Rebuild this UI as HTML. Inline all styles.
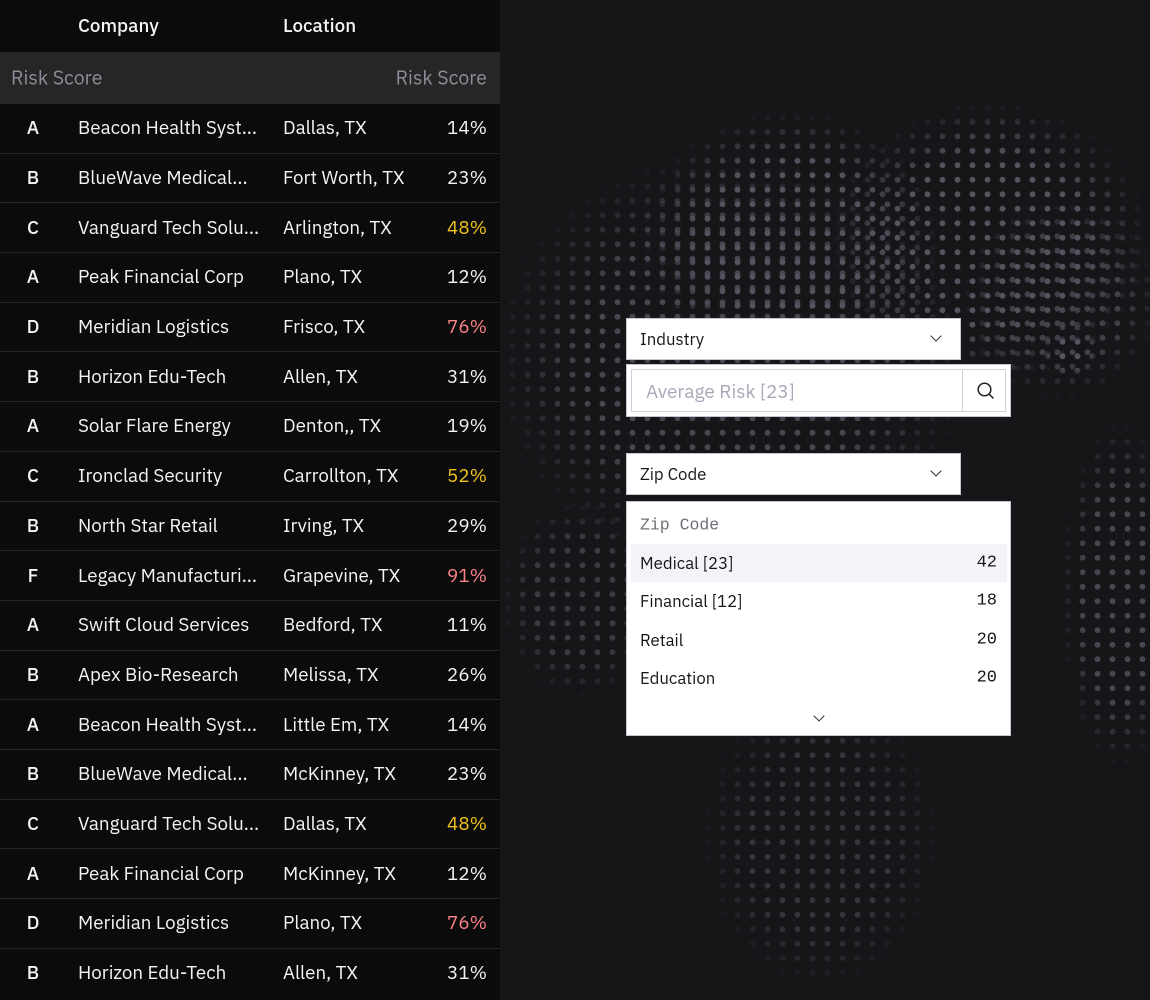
<!DOCTYPE html>
<html><head><meta charset="utf-8"><style>
*{margin:0;padding:0;box-sizing:border-box}
body{width:1150px;height:1000px;overflow:hidden;background:#161619;font-family:"IBM Plex Sans","Liberation Sans",sans-serif;position:relative}
.dots{position:absolute;background-image:radial-gradient(circle,#56535f 2.6px,transparent 3.2px);background-size:15px 14.5px;-webkit-mask-image:radial-gradient(ellipse closest-side,#000 60%,transparent 100%);mask-image:radial-gradient(ellipse closest-side,#000 60%,transparent 100%)}
.tbl{position:absolute;left:0;top:0;width:500px;height:1000px;background:#0b0b0b;color:#f4f4f4;font-size:18.8px}
.hd{height:52px;position:relative;font-weight:500}
.sub{height:51px;background:#262626;position:relative;color:#8d8d99;font-size:19.5px}
.row{height:49.7px;border-top:1px solid #262626;position:relative}
.c{position:absolute;top:50%;transform:translateY(-50%);white-space:nowrap}
.g{left:0;width:66px;text-align:center;font-weight:500}
.n{left:78px}.l{left:283px}.p{right:13px}
.y{color:#f1c21b}.r{color:#ff8389}
.box{position:absolute;background:#fff;border:1px solid #c6c6d0}
.t{position:absolute;font-size:16.8px;color:#161616;transform:translateY(-50%);white-space:nowrap}
.chev{position:absolute;width:8px;height:8px;border-right:1.3px solid #333;border-bottom:1.3px solid #333;transform:rotate(45deg)}
.mono{font-family:"Liberation Mono",monospace}
</style></head><body>
<div class="dots" style="left:490px;top:150px;width:480px;height:420px;opacity:.8"></div>
<div class="dots" style="left:640px;top:110px;width:300px;height:260px"></div>
<div class="dots" style="left:830px;top:100px;width:320px;height:280px"></div>
<div class="dots" style="left:960px;top:200px;width:200px;height:200px;opacity:.7"></div>
<div class="dots" style="left:1040px;top:320px;width:60px;height:60px"></div>
<div class="dots" style="left:1060px;top:420px;width:120px;height:350px;opacity:.8"></div>
<div class="dots" style="left:500px;top:500px;width:160px;height:200px;opacity:.6"></div>
<div class="dots" style="left:700px;top:690px;width:240px;height:300px;opacity:.5"></div>
<div class="tbl">
<div class="hd"><span class="c n">Company</span><span class="c l">Location</span></div>
<div class="sub"><span class="c" style="left:11px">Risk Score</span><span class="c p">Risk Score</span></div>
<div class="row"><span class="c g">A</span><span class="c n">Beacon Health Syst...</span><span class="c l">Dallas, TX</span><span class="c p">14%</span></div>
<div class="row"><span class="c g">B</span><span class="c n">BlueWave Medical...</span><span class="c l">Fort Worth, TX</span><span class="c p">23%</span></div>
<div class="row"><span class="c g">C</span><span class="c n">Vanguard Tech Solu...</span><span class="c l">Arlington, TX</span><span class="c p y">48%</span></div>
<div class="row"><span class="c g">A</span><span class="c n">Peak Financial Corp</span><span class="c l">Plano, TX</span><span class="c p">12%</span></div>
<div class="row"><span class="c g">D</span><span class="c n">Meridian Logistics</span><span class="c l">Frisco, TX</span><span class="c p r">76%</span></div>
<div class="row"><span class="c g">B</span><span class="c n">Horizon Edu-Tech</span><span class="c l">Allen, TX</span><span class="c p">31%</span></div>
<div class="row"><span class="c g">A</span><span class="c n">Solar Flare Energy</span><span class="c l">Denton,, TX</span><span class="c p">19%</span></div>
<div class="row"><span class="c g">C</span><span class="c n">Ironclad Security</span><span class="c l">Carrollton, TX</span><span class="c p y">52%</span></div>
<div class="row"><span class="c g">B</span><span class="c n">North Star Retail</span><span class="c l">Irving, TX</span><span class="c p">29%</span></div>
<div class="row"><span class="c g">F</span><span class="c n">Legacy Manufacturi...</span><span class="c l">Grapevine, TX</span><span class="c p r">91%</span></div>
<div class="row"><span class="c g">A</span><span class="c n">Swift Cloud Services</span><span class="c l">Bedford, TX</span><span class="c p">11%</span></div>
<div class="row"><span class="c g">B</span><span class="c n">Apex Bio-Research</span><span class="c l">Melissa, TX</span><span class="c p">26%</span></div>
<div class="row"><span class="c g">A</span><span class="c n">Beacon Health Syst...</span><span class="c l">Little Em, TX</span><span class="c p">14%</span></div>
<div class="row"><span class="c g">B</span><span class="c n">BlueWave Medical...</span><span class="c l">McKinney, TX</span><span class="c p">23%</span></div>
<div class="row"><span class="c g">C</span><span class="c n">Vanguard Tech Solu...</span><span class="c l">Dallas, TX</span><span class="c p y">48%</span></div>
<div class="row"><span class="c g">A</span><span class="c n">Peak Financial Corp</span><span class="c l">McKinney, TX</span><span class="c p">12%</span></div>
<div class="row"><span class="c g">D</span><span class="c n">Meridian Logistics</span><span class="c l">Plano, TX</span><span class="c p r">76%</span></div>
<div class="row"><span class="c g">B</span><span class="c n">Horizon Edu-Tech</span><span class="c l">Allen, TX</span><span class="c p">31%</span></div>
</div>

<div class="box" style="left:626px;top:318px;width:335px;height:42px"><span class="t" style="left:13px;top:20px">Industry</span><span class="chev" style="left:305px;top:13px"></span></div>
<div class="box" style="left:626px;top:364px;width:385px;height:53px">
 <div style="position:absolute;left:4px;top:4px;width:375px;height:43px;border:1px solid #d0d0da"></div>
 <div style="position:absolute;left:335px;top:5px;width:1px;height:41px;background:#d0d0da"></div>
 <span class="t" style="left:19px;top:27px;color:#a8a8b8;font-size:19px">Average Risk [23]</span>
 <svg style="position:absolute;left:349px;top:16px" width="20" height="20" viewBox="0 0 20 20"><circle cx="8.5" cy="8.5" r="6.3" fill="none" stroke="#222" stroke-width="1.5"/><line x1="13" y1="13" x2="17.5" y2="17.5" stroke="#222" stroke-width="1.5"/></svg>
</div>
<div class="box" style="left:626px;top:453px;width:335px;height:42px"><span class="t" style="left:13px;top:20px">Zip Code</span><span class="chev" style="left:305px;top:13px"></span></div>
<div class="box" style="left:626px;top:501px;width:385px;height:235px">
 <span class="t mono" style="left:13px;top:23px;color:#6f6f7a;font-size:16.5px">Zip Code</span>
 <div style="position:absolute;left:4px;top:42px;width:376px;height:38px;background:#f2f4f8"></div>
 <span class="t" style="left:13px;top:61px">Medical [23]</span><span class="t mono" style="right:13px;top:61px;font-size:17px">42</span>
 <span class="t" style="left:13px;top:99px">Financial [12]</span><span class="t mono" style="right:13px;top:99px;font-size:17px">18</span>
 <span class="t" style="left:13px;top:138px">Retail</span><span class="t mono" style="right:13px;top:138px;font-size:17px">20</span>
 <span class="t" style="left:13px;top:176px">Education</span><span class="t mono" style="right:13px;top:176px;font-size:17px">20</span>
 <span class="chev" style="left:188px;top:210px"></span>
</div>
</body></html>
